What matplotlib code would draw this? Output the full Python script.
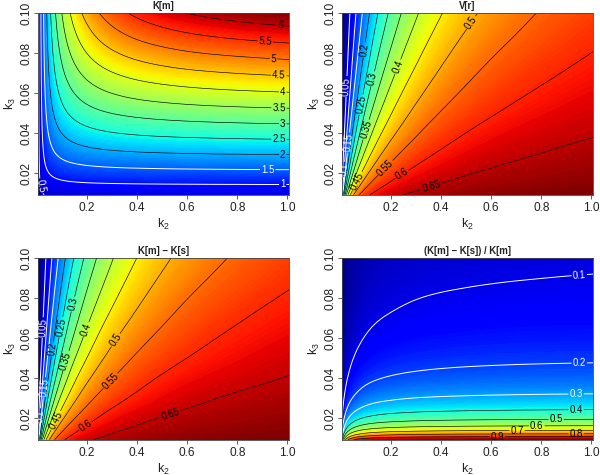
"""
Four contour maps over (k2, k3): K[m], V[r], K[m] - K[s], (K[m] - K[s]) / K[m].
"""

import matplotlib
matplotlib.use("Agg")
import matplotlib.pyplot as plt
import matplotlib.tri as mtri
import numpy as np

plt.rcParams["font.family"] = ["Liberation Sans", "DejaVu Sans"]
plt.rcParams["mathtext.fontset"] = "custom"
plt.rcParams["mathtext.rm"] = "Liberation Sans"
plt.rcParams["mathtext.default"] = "regular"

# ─────────────────────────────────────────
# Values
# ─────────────────────────────────────────

k2 = [0.003, 0.01, 0.02, 0.035, 0.06, 0.09, 0.14, 0.2, 0.3, 0.45, 0.7, 1.006]
k3 = [0.0094, 0.0105, 0.012, 0.014, 0.017, 0.021, 0.027, 0.035, 0.045, 0.06, 0.08, 0.1003]

km = [
    [.159, .339, .448, .519, .569, .596, .617, .628, .638, .645, .649, .652],
    [.163, .359, .482, .565, .626, .658, .684, .698, .710, .718, .724, .727],
    [.168, .382, .525, .626, .700, .741, .774, .792, .808, .818, .826, .830],
    [.173, .408, .576, .700, .795, .848, .891, .916, .936, .950, .961, .967],
    [.179, .441, .643, .801, .927, 1.001, 1.061, 1.097, 1.126, 1.147, 1.162, 1.170],
    [.184, .474, .717, .919, 1.089, 1.192, 1.278, 1.330, 1.374, 1.404, 1.427, 1.440],
    [.189, .511, .804, 1.067, 1.304, 1.454, 1.584, 1.665, 1.734, 1.783, 1.820, 1.841],
    [.193, .544, .891, 1.225, 1.547, 1.764, 1.960, 2.085, 2.194, 2.273, 2.333, 2.368],
    [.197, .573, .969, 1.378, 1.800, 2.100, 2.384, 2.571, 2.739, 2.864, 2.960, 3.015],
    [.200, .600, 1.050, 1.547, 2.100, 2.520, 2.940, 3.231, 3.500, 3.706, 3.869, 3.964],
    [.202, .622, 1.120, 1.704, 2.400, 2.965, 3.564, 4.000, 4.421, 4.755, 5.025, 5.187],
    [.204, .637, 1.168, 1.816, 2.628, 3.320, 4.090, 4.676, 5.262, 5.741, 6.141, 6.384],
]

vr = [
    [.041, .186, .324, .435, .523, .574, .615, .639, .658, .672, .682, .687],
    [.035, .167, .301, .414, .507, .561, .606, .632, .653, .668, .679, .686],
    [.028, .145, .273, .388, .486, .545, .594, .623, .647, .664, .677, .684],
    [.022, .122, .242, .357, .460, .524, .579, .611, .639, .658, .673, .681],
    [.016, .096, .204, .317, .425, .495, .557, .595, .627, .650, .667, .677],
    [.011, .073, .167, .273, .384, .460, .529, .573, .611, .639, .660, .672],
    [.007, .051, .127, .223, .333, .414, .492, .543, .589, .623, .649, .664],
    [.004, .035, .093, .175, .279, .363, .448, .507, .561, .603, .635, .654],
    [.003, .023, .066, .134, .229, .311, .401, .466, .529, .579, .618, .641],
    [.002, .014, .044, .095, .175, .252, .343, .414, .486, .545, .594, .623],
    [.001, .009, .028, .065, .129, .196, .284, .357, .436, .505, .564, .601],
    [.001, .006, .019, .047, .098, .157, .238, .311, .393, .468, .536, .579],
]

km_ks = [
    [.041, .187, .326, .438, .527, .578, .619, .643, .663, .676, .686, .692],
    [.035, .168, .303, .417, .511, .565, .610, .636, .658, .673, .684, .691],
    [.028, .146, .275, .391, .490, .549, .598, .627, .652, .669, .681, .688],
    [.022, .122, .244, .360, .463, .528, .583, .616, .644, .663, .678, .686],
    [.016, .097, .206, .319, .428, .499, .561, .599, .631, .655, .672, .682],
    [.011, .073, .168, .275, .387, .463, .533, .577, .616, .644, .665, .677],
    [.007, .052, .128, .225, .335, .417, .495, .547, .593, .627, .654, .669],
    [.004, .035, .093, .176, .281, .365, .451, .511, .565, .607, .640, .658],
    [.003, .023, .067, .135, .230, .313, .404, .470, .533, .583, .622, .646],
    [.002, .014, .044, .096, .176, .254, .345, .417, .490, .549, .598, .628],
    [.001, .009, .028, .065, .130, .198, .286, .360, .439, .508, .568, .605],
    [.001, .006, .020, .047, .099, .158, .239, .313, .396, .471, .539, .583],
]

km_ks_rel = [
    [.257, .548, .724, .839, .920, .963, .997, 1.016, 1.031, 1.042, 1.050, 1.054],
    [.212, .465, .624, .733, .811, .853, .886, .905, .920, .931, .938, .943],
    [.167, .379, .521, .621, .694, .735, .768, .786, .801, .812, .819, .824],
    [.126, .298, .420, .510, .579, .618, .649, .668, .682, .693, .700, .705],
    [.088, .218, .318, .396, .458, .495, .525, .542, .557, .567, .574, .578],
    [.060, .154, .232, .298, .353, .386, .414, .431, .445, .455, .462, .466],
    [.037, .100, .158, .209, .255, .285, .311, .326, .340, .349, .357, .361],
    [.023, .063, .104, .143, .180, .206, .229, .243, .256, .265, .272, .276],
    [.014, .040, .068, .097, .127, .148, .168, .181, .193, .202, .209, .213],
    [.008, .024, .042, .061, .083, .100, .117, .128, .139, .147, .154, .157],
    [.005, .014, .025, .038, .054, .066, .080, .089, .099, .106, .112, .116],
    [.003, .009, .017, .026, .037, .047, .058, .066, .075, .082, .087, .091],
]

titles = ["K[m]", "V[r]", "K[m] \u2212 K[s]", "(K[m] \u2212 K[s]) / K[m]"]

km_levels = [0.5, 1, 1.5, 2, 2.5, 3, 3.5, 4, 4.5, 5, 5.5, 6]
vr_levels = [0.05, 0.1, 0.15, 0.2, 0.25, 0.3, 0.35, 0.4, 0.45, 0.5, 0.55, 0.6, 0.65]
rel_levels = [0.1, 0.2, 0.3, 0.4, 0.5, 0.6, 0.7, 0.8, 0.9]

x_ticks = [0.2, 0.4, 0.6, 0.8, 1.0]
y_ticks = [0.02, 0.04, 0.06, 0.08, 0.10]

# ─────────────────────────────────────────
# Where the contour labels sit
# ─────────────────────────────────────────

km_labels = [(.0149, .0137), (.981, .0142), (.921, .0217), (.981, .0295), (.966, .0368), (.981, .0447),
             (.966, .0525), (.981, .0607), (.966, .0686), (.944, .0771), (.911, .0859), (.97, .0937)]
vr_labels = [(.024, .0635), (.0134, .022), (.0304, .0353), (.094, .0817), (.081, .0544), (.127, .0673),
             (.101, .0419), (.227, .0734), (.0656, .0162), (.52, .0954), (.178, .0228), (.244, .0195),
             (.363, .0137)]
km_ks_labels = [(.0237, .0654), (.0129, .0213), (.0304, .0355), (.0623, .0546), (.0967, .0657),
                (.145, .0771), (.116, .0488), (.197, .0646), (.076, .0192), (.316, .0591),
                (.294, .0388), (.194, .0163), (.535, .0222)]
rel_labels = [(.951, .0925), (.951, .048), (.939, .0325), (.939, .0245), (.859, .0197),
              (.782, .0163), (.703, .014), (.939, .0123), (.625, .0109)]

# ─────────────────────────────────────────
# Plotting
# ─────────────────────────────────────────

W, H = 600, 475


def make_axes(fig, left, top, width=251.5, height=182):
    """Axes placed in pixel coordinates, origin at the top left."""
    return fig.add_axes([left / W, 1 - (top + height) / H, width / W, height / H])


def smooth_surface(z):
    """Refine the read grid with matplotlib's cubic interpolator, in log-log space."""
    gx, gy = np.meshgrid(np.log(k2), np.log(k3))
    tri = mtri.Triangulation(gx.ravel(), gy.ravel())
    interp = mtri.CubicTriInterpolator(tri, z.ravel(), kind="min_E")
    fine, z_fine = mtri.UniformTriRefiner(tri).refine_field(z.ravel(), interp, subdiv=3)
    return mtri.Triangulation(np.exp(fine.x), np.exp(fine.y), fine.triangles), z_fine


def draw_panel(ax, z, levels, n_white, label_pos, title):
    z = np.array(z)
    tri, z_fine = smooth_surface(z)
    fill = np.linspace(z.min(), z.max(), 200)
    ax.tricontourf(tri, z_fine, levels=fill, cmap="jet", extend="both")

    colors = ["white"] * n_white + ["black"] * (len(levels) - n_white)
    widths = [0.7] * n_white + [0.45] * (len(levels) - n_white)
    cs = ax.tricontour(tri, z_fine, levels=levels, colors=colors, linewidths=widths)
    ax.clabel(cs, fmt="%g", fontsize=7, inline=True, inline_spacing=1, manual=label_pos)

    ax.set_xlim(0.003, 1.006)
    ax.set_ylim(0.0094, 0.1003)
    ax.set_xticks(x_ticks)
    ax.set_xticklabels([f"{t:.1f}" for t in x_ticks], fontsize=8.6)
    ax.set_yticks(y_ticks)
    ax.set_yticklabels([f"{t:.2f}" for t in y_ticks], fontsize=8.6, rotation=90, va="center")
    ax.tick_params(length=3, width=0.6, color="#444444", labelcolor="#222222")
    ax.tick_params(axis="x", pad=2)
    ax.tick_params(axis="y", pad=0.5)
    ax.set_xlabel("k$_2$", fontsize=9, labelpad=2, color="#222222")
    ax.set_ylabel("k$_3$", fontsize=9, labelpad=2, color="#222222")
    ax.set_title(title, fontsize=6.9, fontweight="bold", pad=2.5, color="#222222")
    for spine in ax.spines.values():
        spine.set_linewidth(0.6)
        spine.set_color("#444444")


fig = plt.figure(figsize=(W / 100, H / 100), dpi=100)

ax1 = make_axes(fig, 37.5, 12.7)
ax2 = make_axes(fig, 341.5, 12.7)
ax3 = make_axes(fig, 37.5, 257.7)
ax4 = make_axes(fig, 341.5, 257.7)

draw_panel(ax1, km, km_levels, 3, km_labels, titles[0])
draw_panel(ax2, vr, vr_levels, 3, vr_labels, titles[1])
draw_panel(ax3, km_ks, vr_levels, 3, km_ks_labels, titles[2])
draw_panel(ax4, km_ks_rel, rel_levels, 3, rel_labels, titles[3])

fig.savefig("out.png", dpi=100)
